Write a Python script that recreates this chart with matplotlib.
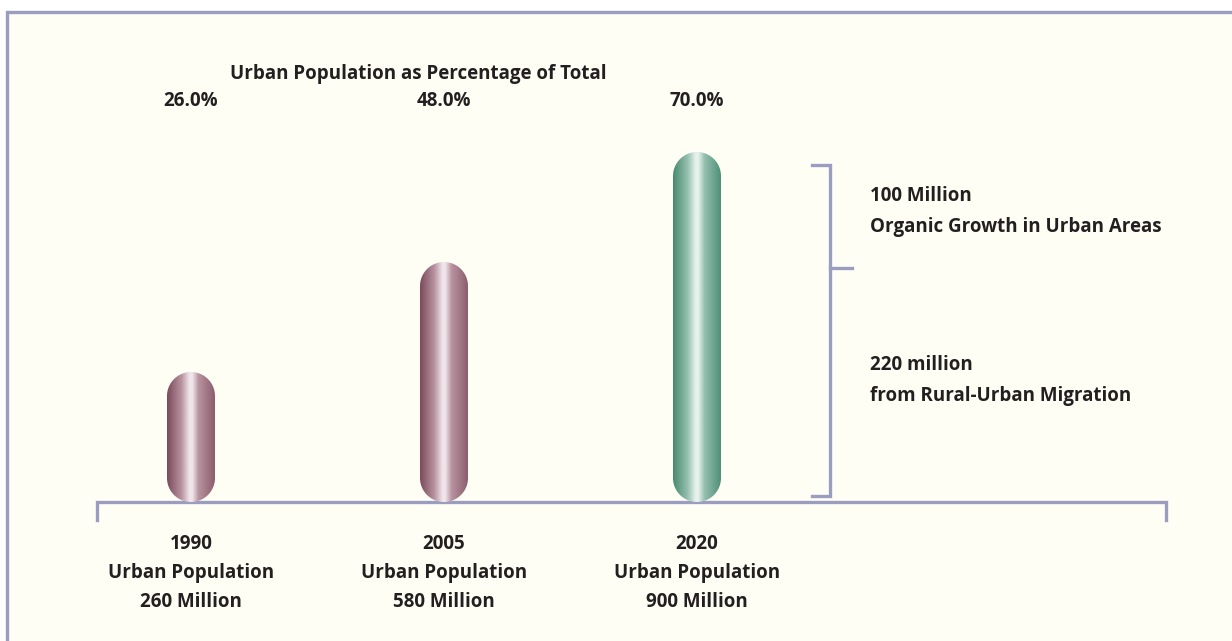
import numpy as np
import matplotlib
matplotlib.use("Agg")
import matplotlib.pyplot as plt
from matplotlib.path import Path
from matplotlib.patches import PathPatch, Rectangle
from matplotlib.colors import to_rgb

plt.rcParams['font.family'] = ['Open Sans', 'DejaVu Sans']

# data
years = ["1990", "2005", "2020"]
urban_share = [26.0, 48.0, 70.0]          # % of total population
urban_pop = [260, 580, 900]               # million
growth_split = [220, 100]                 # rural-urban migration, organic growth (million)
split_labels = ["220 million\nfrom Rural-Urban Migration",
                "100 Million\nOrganic Growth in Urban Areas"]
title = "Urban Population as Percentage of Total"

W, H = 1232, 641
frame_col = "#9a9dbf"
bg_col = "#fefef5"
txt_col = "#231f20"
fs = 13.5

fig = plt.figure(figsize=(W / 100, H / 100), dpi=100)
fig.patch.set_facecolor("white")

# pixel-space canvas for the frame and baseline
bg = fig.add_axes([0, 0, 1, 1])
bg.set_xlim(0, W)
bg.set_ylim(H, 0)
bg.axis("off")
bg.add_patch(Rectangle((6, 12), W, H, facecolor=bg_col, edgecolor="none"))
bg.plot([6.5, 6.5, W + 5], [H + 5, 12, 12], color=frame_col, lw=2.4,
        solid_joinstyle="miter")
bg.plot([97, 97, 1166, 1166], [520, 502, 502, 520], color=frame_col, lw=2.4,
        solid_joinstyle="miter")
bg.text(230, 74, title, fontsize=fs, fontweight="bold", color=txt_col,
        ha="left", va="center")

# bar axes: 5 px per percent, baseline at y=502 px
base_px, px_per_unit = 502, 5.0
x_scale = 253.0
x0_px, x1_px = 97, 1166
ax = fig.add_axes([x0_px / W, (H - base_px) / H, (x1_px - x0_px) / W,
                   80 * px_per_unit / H])
ax.patch.set_alpha(0)
ax.axis("off")
xlim = (-94 / x_scale, -94 / x_scale + (x1_px - x0_px) / x_scale)

bar_w = 48 / x_scale
rx = bar_w / 2
ry = 24 / px_per_unit


def capsule(xc, h):
    t1 = np.linspace(0, np.pi, 40)
    t2 = np.linspace(np.pi, 2 * np.pi, 40)
    top = np.column_stack([xc + rx * np.cos(t1), h - ry + ry * np.sin(t1)])
    bot = np.column_stack([xc + rx * np.cos(t2), ry + ry * np.sin(t2)])
    pts = np.vstack([top, bot, top[:1]])
    return Path(pts, closed=True)


def gradient(dark, mid, light, dark_r):
    stops = [0.0, 0.3, 0.47, 0.53, 0.66, 1.0]
    cols = [dark, mid, light, light, mid, dark_r]
    xs = np.linspace(0, 1, 200)
    rgb = np.array([to_rgb(c) for c in cols])
    img = np.stack([np.interp(xs, stops, rgb[:, k]) for k in range(3)], axis=-1)
    return img[np.newaxis, :, :]


maroon = gradient("#7a4a5b", "#b8939f", "#efe5ea", "#8b5d6d")
green = gradient("#478a70", "#94bfae", "#e6f1ec", "#4f9078")

for i, (yr, share, pop) in enumerate(zip(years, urban_share, urban_pop)):
    grad = green if i == len(years) - 1 else maroon
    im = ax.imshow(grad, extent=(i - rx, i + rx, 0, share), aspect="auto",
                   interpolation="bilinear", zorder=3)
    clip = PathPatch(capsule(i, share), transform=ax.transData,
                     facecolor="none", edgecolor="none")
    ax.add_patch(clip)
    im.set_clip_path(clip)
    ax.text(i, (base_px - 101) / px_per_unit, f"{share:.1f}%", fontsize=fs,
            fontweight="bold", color=txt_col, ha="center", va="center",
            clip_on=False)
    for j, line in enumerate([yr, "Urban Population", f"{pop} Million"]):
        ax.text(i, -(544 + 29 * j - base_px) / px_per_unit, line, fontsize=fs,
                fontweight="bold", color=txt_col, ha="center", va="center",
                clip_on=False)

ax.set_xlim(*xlim)
ax.set_ylim(0, 80)

# bracket showing the 2005-2020 increase split
bx = fig.add_axes([800 / W, (H - 496) / H, 70 / W, 331 / H])
bx.patch.set_alpha(0)
bx.axis("off")
total = sum(growth_split)
bx.set_xlim(800, 870)
bx.set_ylim(0, total)
bx.plot([812, 830, 830, 812], [total, total, 0, 0], color=frame_col, lw=2.4,
        solid_joinstyle="miter", clip_on=False)
bx.plot([830, 852], [growth_split[0], growth_split[0]], color=frame_col,
        lw=2.4, clip_on=False)

for lbl, ypx in zip(split_labels, [365, 196]):
    l1, l2 = lbl.split("\n")
    bg.text(870, ypx, l1, fontsize=fs, fontweight="bold", color=txt_col,
            ha="left", va="center")
    bg.text(870, ypx + 31, l2, fontsize=fs, fontweight="bold", color=txt_col,
            ha="left", va="center")

fig.savefig("out.png", dpi=100, facecolor="white")
